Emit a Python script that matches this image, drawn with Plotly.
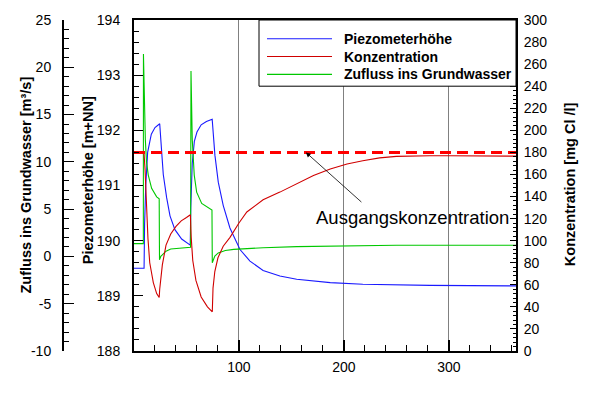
import plotly.graph_objects as go

# ---------------- data ----------------
days_piezo = [0, 9.6, 10.1, 11.2, 13, 16.5, 20, 24.5, 26.4, 27.9, 31.1, 34.3, 39, 45.4, 53.6,
              54.1, 55.5, 57.5, 60, 64, 69, 74.5, 77.1, 80.3, 85, 91.4, 101, 110.5, 123, 139,
              155, 187, 218, 250, 282, 364]
piezo = [189.5, 189.5, 190.3, 191.0, 191.6, 191.93, 192.05, 192.12, 191.6, 191.2, 190.78,
         190.45, 190.2, 190.03, 189.92, 190.6, 191.4, 191.8, 191.97, 192.1, 192.16, 192.2,
         191.55, 191.06, 190.64, 190.23, 189.84, 189.63, 189.46, 189.36, 189.3, 189.24,
         189.21, 189.2, 189.19, 189.18]

days_conc = [0, 9.5, 10.5, 11.8, 13.3, 15, 18.4, 21.6, 24, 24.5, 27, 30.5, 35, 40, 45, 50,
             53.7, 54.5, 56, 59, 64, 70, 74.6, 75.3, 77, 80, 85, 91.5, 100, 107.5, 123, 139,
             155, 171, 187, 203, 218, 234, 250, 266, 282, 300, 330, 364]
conc = [180, 180, 165, 133, 102, 80, 62, 52, 48.5, 56, 78, 96, 106, 113, 118, 121, 123.5,
        103, 82, 64, 49, 40, 35.5, 57, 72, 84.5, 95, 103, 116, 126, 137, 144, 151.6, 159,
        165, 169.5, 172.5, 175, 176.4, 177, 177, 177, 176.7, 176.6]

days_flow = [0, 8.9, 9.0, 9.7, 10.3, 10.8, 11.9, 13.6, 16.8, 21.6, 24, 24.3, 25.5, 27, 30.5,
             35, 45, 53.9, 54.3, 55.5, 57.4, 59.7, 64.5, 72.4, 74.3, 74.6, 77, 80.3, 87, 95,
             104, 123, 155, 203, 250, 364]
flow = [1.35, 1.35, 21.4, 17.6, 14.8, 12.4, 10.0, 8.6, 7.2, 6.3, 6.1, -0.35, 0.0, 0.2, 0.55,
        0.78, 0.9, 0.97, 19.6, 12.4, 8.6, 6.8, 5.6, 5.1, 4.9, -0.67, 0.03, 0.37, 0.62, 0.75,
        0.82, 0.92, 1.04, 1.15, 1.18, 1.18]

ref_days = [0, 364]
ref_conc = [180, 180]           # Ausgangskonzentration
arrow_day, arrow_conc = 163.8, 180
label_day, label_conc = 265, 121

series_names = ["Piezometerhöhe", "Konzentration", "Zufluss ins Grundwasser"]
series_colors = ["#1a1aff", "#d00000", "#00c800"]

x_ticks = [100, 200, 300]
flow_ticks = [-10, -5, 0, 5, 10, 15, 20, 25]
flow_ticktext = [str(v) for v in flow_ticks]   # hyphen-minus like the reference

FONT = "Liberation Sans, Arial, Helvetica, sans-serif"

# ---------------- figure ----------------
fig = go.Figure()

fig.add_trace(go.Scatter(x=days_piezo, y=piezo, name=series_names[0], mode="lines",
                         line=dict(color=series_colors[0], width=1.1), yaxis="y",
                         showlegend=False))
fig.add_trace(go.Scatter(x=days_conc, y=conc, name=series_names[1], mode="lines",
                         line=dict(color=series_colors[1], width=1.1), yaxis="y3",
                         showlegend=False))
fig.add_trace(go.Scatter(x=days_flow, y=flow, name=series_names[2], mode="lines",
                         line=dict(color=series_colors[2], width=1.1), yaxis="y2",
                         showlegend=False))
fig.add_trace(go.Scatter(x=ref_days, y=ref_conc, mode="lines", showlegend=False,
                         name="Ausgangskonzentration",
                         line=dict(color="#ff0000", width=3, dash="11px,6px"), yaxis="y3"))

W, H = 592, 394
ml, mr, mt, mb = 20, 76, 16, 43
pw = W - ml - mr
ph = H - mt - mb
def px(xp):
    return (xp - ml) / pw
def py(yp):
    return (H - mb - yp) / ph

tickfont = dict(family=FONT, size=14, color="black")
axis_common = dict(showgrid=False, zeroline=False, showline=True, linecolor="black",
                   linewidth=2, ticks="inside", tickcolor="black", tickwidth=1,
                   tickfont=tickfont)

fig.update_layout(
    width=W, height=H,
    margin=dict(l=ml, r=mr, t=mt, b=mb, pad=0),
    paper_bgcolor="white", plot_bgcolor="white",
    font=dict(family=FONT, size=14, color="black"),
    xaxis=dict(domain=[px(134), 1], range=[0, 364], tickmode="array", tickvals=x_ticks,
               showgrid=True, gridcolor="#808080", gridwidth=1.3, zeroline=False,
               showline=True, linecolor="black", linewidth=2, mirror=True,
               ticks="inside", ticklen=11, tickwidth=1.5, tickcolor="black",
               tickfont=tickfont, ticklabelstandoff=2,
               minor=dict(tickmode="linear", tick0=0, dtick=20, ticks="inside",
                          ticklen=6, tickcolor="black", tickwidth=1, showgrid=False)),
    yaxis=dict(range=[188, 194], dtick=1, ticklen=9, ticklabelstandoff=9,
               minor=dict(dtick=0.2, ticks="inside", ticklen=5, tickcolor="black"),
               anchor="x", **axis_common),
    yaxis2=dict(range=[-10, 25], tickmode="array", tickvals=flow_ticks,
                ticktext=flow_ticktext, ticklen=10, overlaying="y", anchor="free",
                position=px(63), side="left", ticklabelstandoff=8,
                minor=dict(tickmode="linear", tick0=0, dtick=1, ticks="inside",
                           ticklen=5, tickcolor="black"),
                **axis_common),
    yaxis3=dict(range=[0, 300], dtick=20, ticklen=6, overlaying="y", anchor="x",
                side="right", ticklabelstandoff=3,
                minor=dict(dtick=4, ticks="inside", ticklen=3, tickcolor="black"),
                **axis_common),
    showlegend=False,
)

# legend box (drawn like the reference: long line samples)
fig.add_shape(type="rect", xref="paper", yref="paper", x0=px(259), x1=1, y0=py(83), y1=1,
              line=dict(color="black", width=1), fillcolor="white", layer="above")
for i, (nm, col) in enumerate(zip(series_names, series_colors)):
    yy = py(35 + 18 * i)
    fig.add_shape(type="line", xref="paper", yref="paper", x0=px(267), x1=px(332),
                  y0=yy, y1=yy, line=dict(color=col, width=1.1), layer="above")
    fig.add_annotation(text=nm, xref="paper", yref="paper", x=px(342), y=yy,
                       xanchor="left", yanchor="middle", showarrow=False,
                       font=dict(family=FONT, size=14, color="black", weight="bold"))

title_font = dict(family=FONT, size=14.5, color="black", weight="bold")
fig.add_annotation(text="Zufluss ins Grundwasser [m³/s]", xref="paper", yref="paper",
                   x=px(25), y=0.5, textangle=-90, showarrow=False, font=title_font,
                   xanchor="center", yanchor="middle")
fig.add_annotation(text="Piezometerhöhe [m+NN]", xref="paper", yref="paper",
                   x=px(88), y=0.516, textangle=-90, showarrow=False, font=title_font,
                   xanchor="center", yanchor="middle")
fig.add_annotation(text="Konzentration [mg Cl /l]", xref="paper", yref="paper",
                   x=px(570), y=0.504, textangle=-90, showarrow=False, font=title_font,
                   xanchor="center", yanchor="middle")

fig.add_annotation(text="", x=arrow_day, y=arrow_conc, xref="x", yref="y3",
                   ax=57, ay=51, showarrow=True, arrowhead=2, arrowsize=1.2,
                   arrowwidth=0.8, arrowcolor="black", standoff=0)
fig.add_annotation(text="Ausgangskonzentration", x=label_day, y=label_conc, xref="x",
                   yref="y3", showarrow=False, xanchor="center", yanchor="middle",
                   font=dict(family=FONT, size=18.5, color="black"))

fig.write_html("out.html")
